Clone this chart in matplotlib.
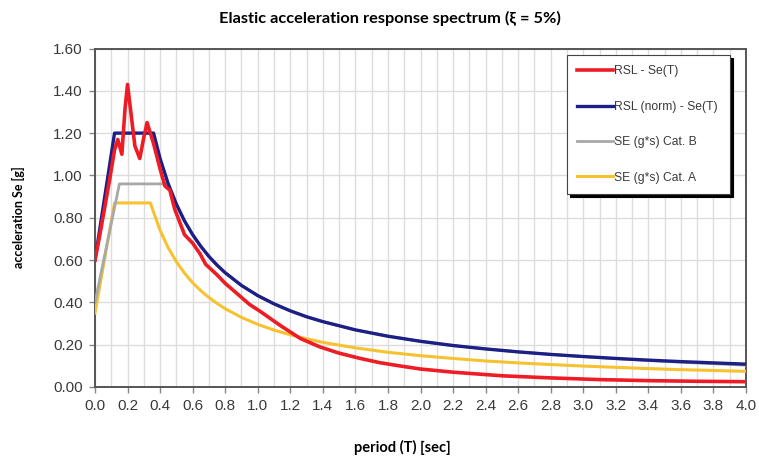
import matplotlib
matplotlib.use("Agg")
import matplotlib.pyplot as plt

# ---- data ----
rsl_T = [0.00, 0.03, 0.06, 0.09, 0.12, 0.14, 0.165, 0.185, 0.20, 0.22, 0.245, 0.275,
         0.30, 0.32, 0.34, 0.36, 0.40, 0.43, 0.46, 0.49, 0.55, 0.60, 0.645, 0.68,
         0.75, 0.80, 0.89, 0.95, 1.01, 1.14, 1.26, 1.38, 1.50, 1.63, 1.75, 1.87,
         2.00, 2.20, 2.50, 2.80, 3.10, 3.40, 3.70, 4.00]
rsl_Se = [0.60, 0.72, 0.85, 0.98, 1.12, 1.17, 1.10, 1.32, 1.43, 1.30, 1.14, 1.08,
          1.18, 1.25, 1.20, 1.15, 1.03, 0.95, 0.93, 0.84, 0.72, 0.68, 0.63, 0.58,
          0.53, 0.49, 0.43, 0.39, 0.36, 0.29, 0.23, 0.19, 0.16, 0.135, 0.115, 0.10,
          0.085, 0.07, 0.053, 0.043, 0.035, 0.030, 0.027, 0.025]

norm_T = [0.00, 0.12, 0.36, 0.40, 0.45, 0.50, 0.55, 0.60, 0.65, 0.70, 0.75, 0.80,
          0.90, 1.00, 1.10, 1.20, 1.30, 1.40, 1.60, 1.80, 2.00, 2.20, 2.40, 2.60,
          2.80, 3.00, 3.20, 3.40, 3.60, 3.80, 4.00]
norm_Se = [0.60, 1.20, 1.20, 1.08, 0.96, 0.864, 0.785, 0.72, 0.665, 0.617, 0.576, 0.54,
           0.48, 0.432, 0.393, 0.36, 0.332, 0.309, 0.27, 0.24, 0.216, 0.196, 0.18, 0.166,
           0.154, 0.144, 0.135, 0.127, 0.12, 0.114, 0.108]

catB_T = [0.00, 0.15, 0.45, 0.50, 0.55, 0.60, 0.65, 0.70, 0.75, 0.80, 0.90, 1.00,
          1.10, 1.20, 1.30, 1.40, 1.60, 1.80, 2.00, 2.20, 2.40, 2.60, 2.80, 3.00,
          3.20, 3.40, 3.60, 3.80, 4.00]
catB_Se = [0.40, 0.96, 0.96, 0.864, 0.785, 0.72, 0.665, 0.617, 0.576, 0.54, 0.48, 0.432,
           0.393, 0.36, 0.332, 0.309, 0.27, 0.24, 0.216, 0.196, 0.18, 0.166, 0.154, 0.144,
           0.134, 0.125, 0.117, 0.110, 0.103]

catA_T = [0.00, 0.12, 0.34, 0.40, 0.45, 0.50, 0.55, 0.60, 0.65, 0.70, 0.75, 0.80,
          0.90, 1.00, 1.10, 1.20, 1.30, 1.40, 1.60, 1.80, 2.00, 2.20, 2.40, 2.60,
          2.80, 3.00, 3.20, 3.40, 3.60, 3.80, 4.00]
catA_Se = [0.35, 0.87, 0.87, 0.74, 0.658, 0.592, 0.538, 0.493, 0.455, 0.423, 0.395, 0.37,
           0.329, 0.296, 0.269, 0.247, 0.228, 0.211, 0.185, 0.164, 0.148, 0.135, 0.123, 0.114,
           0.106, 0.099, 0.093, 0.087, 0.082, 0.078, 0.074]

labels = ["RSL - Se(T)", "RSL (norm) - Se(T)", "SE (g*s) Cat. B", "SE (g*s) Cat. A"]
x_ticks = [i / 10 for i in range(0, 41, 2)]
y_ticks = [i / 100 for i in range(0, 161, 20)]

# ---- figure ----
W, H = 759, 459
fig = plt.figure(figsize=(W / 100, H / 100), dpi=100)
ax = fig.add_axes([95 / W, 1 - 387 / H, (746 - 95) / W, (387 - 48.5) / H])

c_red, c_blue, c_gray, c_yel = "#ee1c25", "#1c1f86", "#a8a8a8", "#f6c230"
l1, = ax.plot(rsl_T, rsl_Se, color=c_red, lw=2.6, zorder=6)
l2, = ax.plot(norm_T, norm_Se, color=c_blue, lw=2.4, zorder=5)
l3, = ax.plot(catB_T, catB_Se, color=c_gray, lw=2.0, zorder=4)
l4, = ax.plot(catA_T, catA_Se, color=c_yel, lw=2.2, zorder=3)

ax.set_xlim(0, 4.0)
ax.set_ylim(0, 1.6)
ax.set_xticks(x_ticks)
ax.set_xticklabels([f"{v:.1f}" for v in x_ticks])
ax.set_yticks(y_ticks)
ax.set_yticklabels([f"{v:.2f}" for v in y_ticks])
ax.set_xticks([i / 10 for i in range(0, 41)], minor=True)
ax.grid(True, which="both", axis="x", color="#dcdcdc", lw=1.0)
ax.grid(True, which="major", axis="y", color="#dcdcdc", lw=1.0)
ax.set_axisbelow(True)
ax.tick_params(axis="both", which="major", labelsize=11, labelcolor="#3a3a3a",
               color="#888888", length=4, width=1, pad=5, direction="out")
ax.tick_params(axis="x", which="minor", length=0)
for lab in ax.get_xticklabels() + ax.get_yticklabels():
    lab.set_fontfamily("Liberation Sans")
for s in ax.spines.values():
    s.set_color("#555555")
    s.set_linewidth(1.4)

leg = ax.legend([l1, l2, l3, l4], labels, loc="upper left",
                bbox_to_anchor=(0.725, 0.576, 0.250, 0.405), mode="expand",
                borderaxespad=0.0,
                prop={"family": "Liberation Sans", "size": 8.75},
                labelspacing=1.93, handlelength=2.9, handletextpad=0.15,
                borderpad=0.86, fancybox=False, framealpha=1,
                edgecolor="#444444", shadow={"color": "black", "alpha": 1.0})
leg.get_frame().set_linewidth(0.8)
for t in leg.get_texts():
    t.set_color("#3a3a3a")

fig.text(390 / W, 1 - 18 / H, "Elastic acceleration response spectrum (ξ = 5%)",
         ha="center", va="center", fontsize=11.8, fontweight="bold", family="Lato")
fig.text(18 / W, 1 - 217 / H, "acceleration Se [g]", rotation=90, ha="center",
         va="center", fontsize=9, fontweight="bold", family="Lato")
fig.text(402 / W, 1 - 447 / H, "period (T) [sec]", ha="center", va="center",
         fontsize=10.5, fontweight="bold", family="Lato")

fig.savefig("out.png", dpi=100)
